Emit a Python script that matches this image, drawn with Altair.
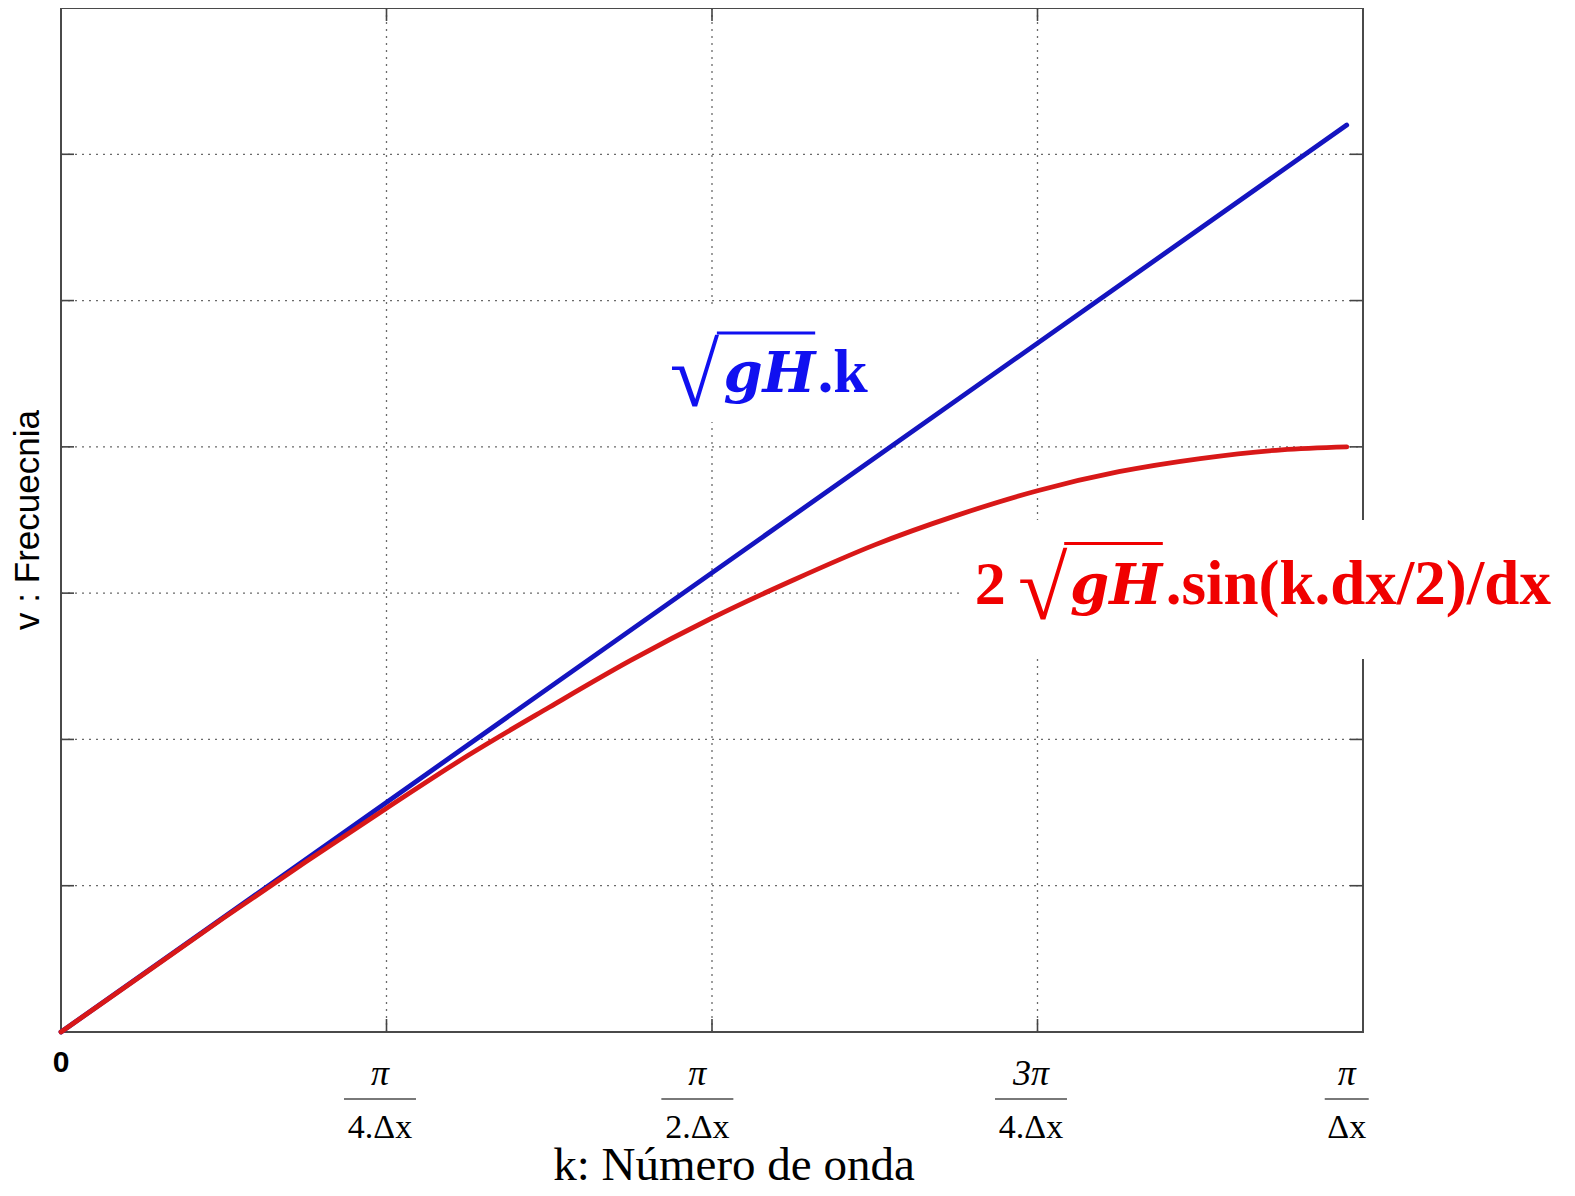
import altair as alt
import pandas as pd

# ---- data (k in units of pi/(4*dx), v in grid units) ----
k_blue = [0.0, 3.95]
v_blue = [0.0, 6.20]

k_red = [0.0, 0.25, 0.5, 0.75, 1.0, 1.25, 1.5, 1.75, 2.0, 2.25, 2.5, 2.75,
         3.0, 3.25, 3.5, 3.75, 3.95]
v_red = [0.0, 0.39, 0.78, 1.16, 1.53, 1.89, 2.22, 2.54, 2.83, 3.09, 3.33, 3.53,
         3.70, 3.83, 3.92, 3.98, 4.00]

x_ticks = [1, 2, 3]
y_ticks = [1, 2, 3, 4, 5, 6]

label_k = [0.98, 1.955, 2.98, 3.95]
label_num = ["π", "π", "3π", "π"]
label_den = ["4.Δx", "2.Δx", "4.Δx", "Δx"]

x_title = "k: Número de onda"
y_title = "v : Frecuecnia"

W, H = 1302, 1024

xs = alt.Scale(domain=[0, 4], nice=False, zero=False)
ys = alt.Scale(domain=[0, 7], nice=False, zero=False)
X = lambda f: alt.X(f, scale=xs, axis=None)
Y = lambda f: alt.Y(f, scale=ys, axis=None)

curves = pd.DataFrame(
    {"k": k_blue + k_red, "v": v_blue + v_red,
     "s": ["blue"] * len(k_blue) + ["red"] * len(k_red)}
)

xt = pd.DataFrame({"k": x_ticks})
yt = pd.DataFrame({"v": y_ticks})

# dotted grid
grid_style = dict(color="#6a6a6a", strokeWidth=1.3, strokeDash=[2, 5])
gx = alt.Chart(xt).mark_rule(**grid_style).encode(
    x=X("k:Q"), y=alt.value(0), y2=alt.value(H))
gy = alt.Chart(yt).mark_rule(**grid_style).encode(
    y=Y("v:Q"), x=alt.value(0), x2=alt.value(W))

lines = alt.Chart(curves).mark_line(strokeWidth=4.8, strokeCap="round",
                                    interpolate="monotone").encode(
    x=X("k:Q"),
    y=Y("v:Q"),
    color=alt.Color("s:N", scale=alt.Scale(domain=["blue", "red"],
                                           range=["#1414c0", "#d81818"]), legend=None),
    detail="s:N",
)

# inward tick marks on the four sides
tick_style = dict(color="#444444", strokeWidth=1.6)
tb = alt.Chart(xt).mark_rule(**tick_style).encode(
    x=X("k:Q"), y=alt.value(H), y2=alt.value(H - 13))
tt = alt.Chart(xt).mark_rule(**tick_style).encode(
    x=X("k:Q"), y=alt.value(0), y2=alt.value(13))
tl = alt.Chart(yt).mark_rule(**tick_style).encode(
    y=Y("v:Q"), x=alt.value(0), x2=alt.value(13))
tr = alt.Chart(yt).mark_rule(**tick_style).encode(
    y=Y("v:Q"), x=alt.value(W), x2=alt.value(W - 13))

# white boxes behind the formulas
boxes = pd.DataFrame({"k0": [1.866, 2.773], "k1": [2.487, 4.61],
                      "v0": [4.17, 2.55], "v1": [4.96, 3.50]})
box = alt.Chart(boxes).mark_rect(color="white").encode(
    x=X("k0:Q"), x2="k1:Q", y=Y("v0:Q"), y2="v1:Q")


def txt(text, k, v, color, font, size, weight="normal", style="normal"):
    d = pd.DataFrame({"t": [text], "k": [k], "v": [v]})
    return alt.Chart(d).mark_text(align="left", baseline="alphabetic", color=color,
                                  font=font, fontSize=size, fontWeight=weight,
                                  fontStyle=style).encode(
        x=X("k:Q"), y=Y("v:Q"), text="t:N")


def overline(k0, k1, v, color):
    d = pd.DataFrame({"k0": [k0], "k1": [k1], "v": [v]})
    return alt.Chart(d).mark_rule(color=color, strokeWidth=3).encode(
        x=X("k0:Q"), x2="k1:Q", y=Y("v:Q"))


BLUE = "#1010f0"
RED = "#f00000"
blue_txt = [
    txt("√", 1.870, 4.28, BLUE, "Liberation Serif", 90),
    overline(2.015, 2.317, 4.778, BLUE),
    txt("gH", 2.035, 4.376, BLUE, "DejaVu Serif", 56, "bold", "italic"),
    txt(".k", 2.325, 4.376, BLUE, "Liberation Serif", 62, "bold"),
]
red_txt = [
    txt("2", 2.807, 2.924, RED, "Liberation Serif", 62, "bold"),
    txt("√", 2.940, 2.82, RED, "Liberation Serif", 90),
    overline(3.082, 3.385, 3.340, RED),
    txt("gH", 3.100, 2.924, RED, "DejaVu Serif", 56, "bold", "italic"),
    txt(".sin(k.dx/2)/dx", 3.394, 2.924, RED, "Liberation Serif", 63, "bold"),
]

# x tick labels drawn as fractions
lab = pd.DataFrame({"k": label_k, "num": label_num, "den": label_den})
num = alt.Chart(lab).mark_text(align="center", baseline="alphabetic", color="black",
                               font="Liberation Serif", fontSize=36,
                               fontStyle="italic").encode(
    x=X("k:Q"), y=alt.value(1077), text="num:N")
bar = alt.Chart(lab).mark_tick(orient="horizontal", thickness=1.6, color="black").encode(
    x=X("k:Q"), y=alt.value(1091),
    size=alt.condition(alt.datum.den == "Δx", alt.value(44), alt.value(72)))
den = alt.Chart(lab).mark_text(align="center", baseline="alphabetic", color="black",
                               font="Liberation Serif", fontSize=34).encode(
    x=X("k:Q"), y=alt.value(1130), text="den:N")
zero = alt.Chart(pd.DataFrame({"k": [0.0], "t": ["0"]})).mark_text(
    align="center", baseline="alphabetic", color="black", font="Liberation Sans",
    fontSize=30, fontWeight="bold").encode(
    x=X("k:Q"), y=alt.value(1064), text="t:N")

# axis titles
xtitle = alt.Chart(pd.DataFrame({"t": [x_title]})).mark_text(
    align="center", baseline="alphabetic", color="black", font="Liberation Serif",
    fontSize=47).encode(x=alt.value(673), y=alt.value(1172), text="t:N")
ytitle = alt.Chart(pd.DataFrame({"t": [y_title]})).mark_text(
    align="center", baseline="alphabetic", color="black", font="Liberation Sans",
    fontSize=35, angle=270).encode(x=alt.value(-22), y=alt.value(512), text="t:N")

chart = alt.layer(
    gx, gy, lines, tb, tt, tl, tr, box, *blue_txt, *red_txt, num, bar, den, zero,
    xtitle, ytitle
).properties(
    width=W, height=H, autosize="none",
    padding={"left": 53, "top": 0, "right": 200, "bottom": 160},
).configure_view(
    stroke="#4a4a4a", strokeWidth=2
)

chart.save("out.html", embed_options={"renderer": "svg", "actions": False})
